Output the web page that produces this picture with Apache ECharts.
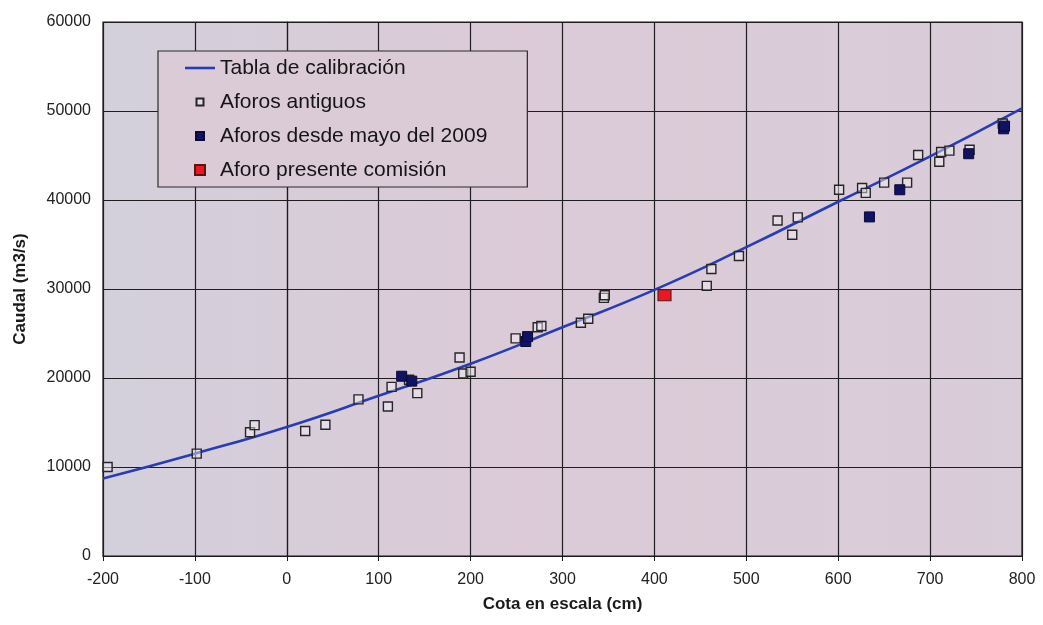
<!DOCTYPE html>
<html>
<head>
<meta charset="utf-8">
<title>Curva de calibración</title>
<script src="https://cdn.jsdelivr.net/npm/echarts@6/dist/echarts.min.js"></script>
<style>
  html, body { margin: 0; padding: 0; background: #ffffff; }
  #chart { width: 1043px; height: 625px; }
</style>
</head>
<body>
<div id="chart"></div>
<script>
// Calibration table (cota en escala cm -> caudal m3/s)
const curveCota   = [-200, -100, 0, 100, 200, 300, 400, 500, 600, 700, 800];
const curveCaudal = [8700, 11500, 14500, 18000, 21600, 25700, 29900, 34700, 39800, 44900, 50300];

// Older gaugings
const antiguosCota   = [-195, -98, -40, -35, 20, 42, 78, 110, 114, 133, 142, 188, 192, 200,
                        249, 273, 277, 320, 328, 345, 346, 457, 462, 492, 534, 550, 556,
                        601, 626, 630, 650, 675, 687, 710, 712, 721, 743, 779];
const antiguosCaudal = [10000, 11500, 13900, 14700, 14050, 14750, 17600, 16800, 19000, 19800, 18300, 22300, 20500, 20700,
                        24450, 25700, 25850, 26200, 26650, 29000, 29300, 30350, 32250, 33700, 37700, 36100, 38050,
                        41150, 41350, 40800, 41950, 41950, 45050, 44300, 45400, 45550, 45650, 48600];

// Gaugings since May 2009
const recientesCota   = [125, 136, 260, 262, 634, 667, 742, 780, 781];
const recientesCaudal = [20200, 19650, 24100, 24650, 38100, 41150, 45200, 48000, 48300];

// Gauging of the present commission
const presenteCota   = [411];
const presenteCaudal = [29300];

const xTicks = { min: -200, max: 800, step: 100 };
const yTicks = { min: 0, max: 60000, step: 10000 };

const names = ['Tabla de calibración', 'Aforos antiguos', 'Aforos desde mayo del 2009', 'Aforo presente comisión'];

const pairs = (xs, ys) => xs.map((x, i) => [x, ys[i]]);

const plotFill = {
  type: 'linear', x: 0, y: 0, x2: 1, y2: 0,
  colorStops: [
    { offset: 0, color: '#d3d0dc' },
    { offset: 0.45, color: '#dccad7' },
    { offset: 1, color: '#d9cdd9' }
  ]
};

const font = 'Liberation Sans, Arial, sans-serif';

const chart = echarts.init(document.getElementById('chart'), null, { renderer: 'canvas' });

chart.setOption({
  backgroundColor: '#ffffff',
  animation: false,
  grid: {
    left: 103, right: 21, top: 22, bottom: 69,
    show: true,
    backgroundColor: plotFill,
    borderColor: '#1a1a1a',
    borderWidth: 1.2
  },
  legend: {
    orient: 'vertical',
    left: 158,
    top: 51,
    padding: [5, 40, 5, 27],
    itemGap: 10,
    itemWidth: 30,
    itemHeight: 10,
    backgroundColor: '#dacbd7',
    borderColor: '#2a2a2a',
    borderWidth: 1.2,
    textStyle: { fontFamily: font, fontSize: 21, lineHeight: 24, color: '#151515' },
    data: [
      { name: names[0], icon: 'path://M0,0h30v2.6h-30z' },
      { name: names[1], icon: 'path://M0,0M10,10M1.5,1.5h7v7h-7z' },
      { name: names[2], icon: 'path://M0,0M10,10M1,1h8v8h-8z' },
      { name: names[3], icon: 'path://M0,0h10v10h-10z' }
    ]
  },
  xAxis: {
    type: 'value',
    min: xTicks.min,
    max: xTicks.max,
    interval: xTicks.step,
    name: 'Cota en escala (cm)',
    nameLocation: 'middle',
    nameGap: 40,
    nameTextStyle: { fontFamily: font, fontSize: 17, fontWeight: 'bold', color: '#1a1a1a' },
    axisLine: { show: true, onZero: false, lineStyle: { color: '#1a1a1a', width: 1.2 } },
    axisTick: { show: true, length: 5, lineStyle: { color: '#1a1a1a' } },
    axisLabel: { margin: 16, fontFamily: font, fontSize: 16, color: '#222222', formatter: v => String(v) },
    splitLine: { show: true, lineStyle: { color: '#1e1e1e', width: 1.2 } }
  },
  yAxis: {
    type: 'value',
    min: yTicks.min,
    max: yTicks.max,
    interval: yTicks.step,
    name: 'Caudal (m3/s)',
    nameLocation: 'middle',
    nameGap: 74,
    nameTextStyle: { fontFamily: font, fontSize: 17, fontWeight: 'bold', color: '#1a1a1a' },
    axisLine: { show: true, lineStyle: { color: '#1a1a1a', width: 1.2 } },
    axisTick: { show: true, length: 4, lineStyle: { color: '#1a1a1a' } },
    axisLabel: { margin: 12, fontFamily: font, fontSize: 16, color: '#222222', formatter: v => String(v) },
    splitLine: { show: true, lineStyle: { color: '#1e1e1e', width: 1.2 } }
  },
  series: [
    {
      name: names[0],
      type: 'line',
      data: pairs(curveCota, curveCaudal),
      smooth: true,
      symbol: 'none',
      lineStyle: { color: '#2a3cb4', width: 2.6 },
      itemStyle: { color: '#2a3cb4' },
      z: 2
    },
    {
      name: names[1],
      type: 'scatter',
      data: pairs(antiguosCota, antiguosCaudal),
      symbol: 'rect',
      symbolSize: 9,
      itemStyle: { color: 'rgba(245,240,246,0.45)', borderColor: '#262626', borderWidth: 1.4, opacity: 1 },
      z: 3
    },
    {
      name: names[2],
      type: 'scatter',
      data: pairs(recientesCota, recientesCaudal),
      symbol: 'rect',
      symbolSize: 10,
      itemStyle: { color: '#121262', borderColor: '#0a0a36', borderWidth: 1, opacity: 1 },
      z: 4
    },
    {
      name: names[3],
      type: 'scatter',
      data: pairs(presenteCota, presenteCaudal),
      symbol: 'rect',
      symbolSize: [13, 11],
      itemStyle: { color: '#ea1820', borderColor: '#5a1414', borderWidth: 1, opacity: 1 },
      z: 5
    }
  ]
});
</script>
</body>
</html>
